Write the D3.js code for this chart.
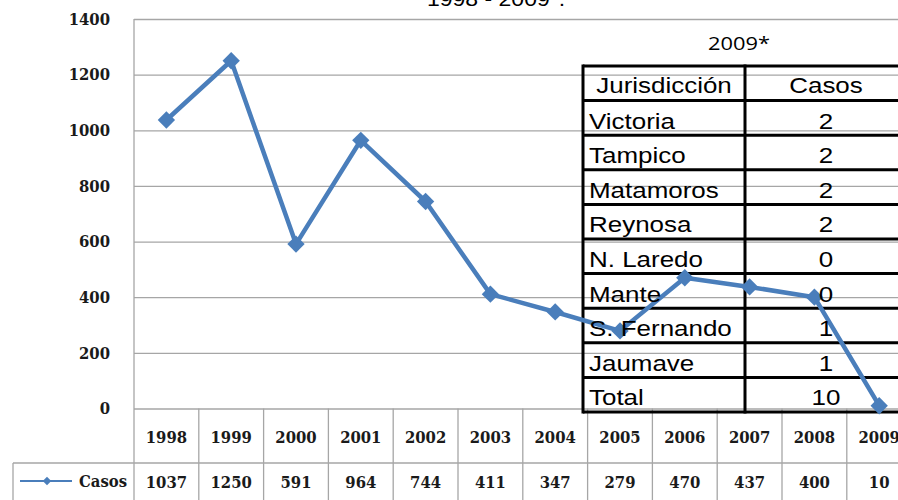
<!DOCTYPE html>
<html>
<head>
<meta charset="utf-8">
<script src="https://cdn.jsdelivr.net/npm/d3@7"></script>
<style>
  html, body { margin: 0; padding: 0; background: #fff; }
  svg { display: block; }
</style>
</head>
<body>
<div id="chart"></div>
<script>
// Casos por año 1998 - 2009*, with an overlaid 2009 table by jurisdiction.
const years = ["1998", "1999", "2000", "2001", "2002", "2003", "2004", "2005", "2006", "2007", "2008", "2009"];
const casos = [1037, 1250, 591, 964, 744, 411, 347, 279, 470, 437, 400, 10];
const yTicks = [0, 200, 400, 600, 800, 1000, 1200, 1400];

const jurisdicciones = ["Victoria", "Tampico", "Matamoros", "Reynosa", "N. Laredo", "Mante", "S. Fernando", "Jaumave", "Total"];
const casosJur = [2, 2, 2, 2, 0, 0, 1, 1, 10];

const width = 898;
const height = 500;
const blue = "#4a7ebb";
const grid = "#a6a6a6";
const serif = "'DejaVu Serif Condensed', 'DejaVu Serif', serif";
const sans = "'Liberation Sans', Arial, sans-serif";

const svg = d3.select("#chart").append("svg")
  .attr("width", width)
  .attr("height", height);

const plotLeft = 134;
const colW = 64.8;
const x = d3.scaleBand().domain(years).range([plotLeft, plotLeft + colW * years.length]);
const y = d3.scaleLinear().domain([0, 1400]).range([408.5, 19]);
const plotRight = x.range()[1];

// stretched text helper (the reference is horizontally widened)
function stretchText(g, str, tx, ty, opts) {
  return g.append("text")
    .attr("transform", `translate(${tx},${ty}) scale(${opts.sx || 1},1)`)
    .attr("text-anchor", opts.anchor || "start")
    .style("font-family", opts.family || sans)
    .style("font-size", (opts.size || 22) + "px")
    .style("font-weight", opts.weight || "normal")
    .attr("fill", "#000")
    .text(str);
}

function serifLabel(sel) {
  sel.style("font-family", serif)
    .style("font-size", "16.5px")
    .style("font-weight", "bold")
    .attr("fill", "#1a1a1a");
}

// ---- title (cut off at the top) ----
stretchText(svg, "1998 - 2009*.", 496, 6, { anchor: "middle", size: 20, sx: 1.15 });

// ---- gridlines + y labels ----
const yAxis = svg.append("g")
  .attr("transform", `translate(${plotLeft},0)`)
  .call(d3.axisLeft(y)
    .tickValues(yTicks)
    .tickFormat(d3.format("d"))
    .tickSize(-(plotRight - plotLeft))
    .tickPadding(24));
yAxis.select(".domain").remove();
yAxis.selectAll(".tick line").attr("stroke", grid).attr("stroke-width", 1.3);
yAxis.selectAll(".tick text").call(serifLabel);

// y axis line running down through the data table
svg.append("line")
  .attr("x1", plotLeft).attr("x2", plotLeft)
  .attr("y1", y(1400)).attr("y2", height)
  .attr("stroke", grid).attr("stroke-width", 1.3);

// ---- data table below the plot ----
const tableTop = y(0);
const rowMid = 463;
const table = svg.append("g");
table.selectAll("line.col")
  .data(years)
  .enter().append("line")
  .attr("class", "col")
  .attr("x1", (d) => x(d) + colW).attr("x2", (d) => x(d) + colW)
  .attr("y1", tableTop).attr("y2", height)
  .attr("stroke", grid).attr("stroke-width", 1.3);
table.append("line")
  .attr("x1", 13).attr("x2", plotRight)
  .attr("y1", rowMid).attr("y2", rowMid)
  .attr("stroke", grid).attr("stroke-width", 1.3);
table.append("line")
  .attr("x1", 13).attr("x2", 13)
  .attr("y1", rowMid).attr("y2", height)
  .attr("stroke", grid).attr("stroke-width", 1.3);

table.selectAll("text.year")
  .data(years)
  .enter().append("text")
  .attr("class", "year")
  .attr("x", (d) => x(d) + colW / 2)
  .attr("y", 437)
  .attr("dy", "0.36em")
  .attr("text-anchor", "middle")
  .call(serifLabel)
  .text((d) => d);

table.selectAll("text.val")
  .data(casos)
  .enter().append("text")
  .attr("class", "val")
  .attr("x", (d, i) => x(years[i]) + colW / 2)
  .attr("y", 482)
  .attr("dy", "0.36em")
  .attr("text-anchor", "middle")
  .call(serifLabel)
  .text((d) => d);

// legend key in the table row
table.append("line")
  .attr("x1", 20).attr("x2", 72)
  .attr("y1", 481).attr("y2", 481)
  .attr("stroke", blue).attr("stroke-width", 2);
table.append("path")
  .attr("d", d3.symbol(d3.symbolSquare, 36)())
  .attr("transform", "translate(47,481) rotate(45)")
  .attr("fill", blue);
table.append("text")
  .attr("x", 127).attr("y", 481).attr("dy", "0.36em")
  .attr("text-anchor", "end")
  .call(serifLabel)
  .text("Casos");

// ---- overlaid 2009 table ----
const ov = svg.append("g");
const ovLeft = 583;
const ovMid = 745;
const ovRight = 907;
const ovTop = 66;
const ovRowH = 34.6;
const ovRows = jurisdicciones.length + 1;

stretchText(ov, "2009*", 739, 50, { anchor: "middle", size: 19, sx: 1.15, family: "'Open Sans', sans-serif" });

const ovBorders = ov.append("g")
  .attr("stroke", "#000")
  .attr("stroke-width", 3);
for (let r = 0; r <= ovRows; r++) {
  ovBorders.append("line")
    .attr("x1", ovLeft).attr("x2", ovRight)
    .attr("y1", ovTop + r * ovRowH).attr("y2", ovTop + r * ovRowH);
}
[ovLeft, ovMid, ovRight].forEach((xx) => {
  ovBorders.append("line")
    .attr("x1", xx).attr("x2", xx)
    .attr("y1", ovTop - 1.5).attr("y2", ovTop + ovRows * ovRowH + 1.5);
});

// ---- line series ----
const line = d3.line()
  .x((d, i) => x(years[i]) + colW / 2)
  .y((d) => y(d));
svg.append("path")
  .datum(casos)
  .attr("d", line)
  .attr("fill", "none")
  .attr("stroke", blue)
  .attr("stroke-width", 4.5)
  .attr("stroke-linejoin", "round");
svg.selectAll("path.marker")
  .data(casos)
  .enter().append("path")
  .attr("class", "marker")
  .attr("d", d3.symbol(d3.symbolSquare, 150)())
  .attr("transform", (d, i) => `translate(${x(years[i]) + colW / 2},${y(d)}) rotate(45)`)
  .attr("fill", blue);

// ---- overlaid table text on top ----
const ovText = svg.append("g");
stretchText(ovText, "Jurisdicción", (ovLeft + ovMid) / 2, ovTop + 27, { anchor: "middle", sx: 1.18 });
stretchText(ovText, "Casos", (ovMid + ovRight) / 2, ovTop + 27, { anchor: "middle", sx: 1.18 });
jurisdicciones.forEach((name, i) => {
  const top = ovTop + (i + 1) * ovRowH;
  stretchText(ovText, name, ovLeft + 6, top + 28, { sx: 1.18 });
  stretchText(ovText, String(casosJur[i]), (ovMid + ovRight) / 2, top + 28, { anchor: "middle", sx: 1.18 });
});
</script>
</body>
</html>
